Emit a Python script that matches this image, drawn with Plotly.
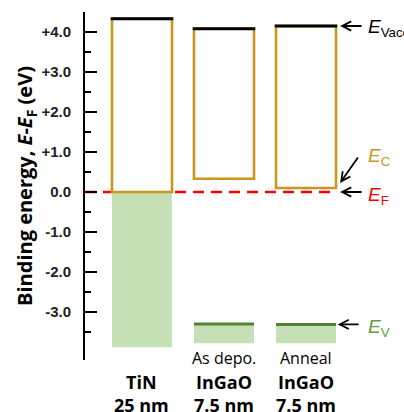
import plotly.graph_objects as go

# ---- data ----
materials = ["TiN", "InGaO", "InGaO"]
thickness = ["25 nm", "7.5 nm", "7.5 nm"]
conditions = ["", "As depo.", "Anneal"]
E_vac = [4.33, 4.08, 4.15]          # vacuum level (eV)
E_c = [0.00, 0.33, 0.10]            # conduction band minimum / TiN Fermi edge
occ_top = [0.00, -3.30, -3.31]      # top of filled states (E_V for InGaO)
occ_bottom = [-3.88, -3.78, -3.78]  # bottom of shaded region
E_F = 0.0
y_ticks = [-3, -2, -1, 0, 1, 2, 3, 4]
y_tick_text = ["-3.0", "-2.0", "-1.0", "0.0", "+1.0", "+2.0", "+3.0", "+4.0"]

GOLD = "#C8971B"
FILL = "#C5E0B4"
DGREEN = "#548235"
TGREEN = "#5E9C3E"

idx = list(range(len(materials)))
BW = 0.732
XR = [-0.695, 3.195]
YR = [-4.2, 4.5]

fig = go.Figure()

# filled (occupied) region
fig.add_trace(go.Bar(x=idx, base=occ_bottom,
                     y=[t - b for t, b in zip(occ_top, occ_bottom)],
                     width=BW, marker=dict(color=FILL, line=dict(width=0)),
                     hoverinfo="skip"))
# gap boxes (Ec -> Evac)
fig.add_trace(go.Bar(x=idx, base=E_c, y=[v - c for v, c in zip(E_vac, E_c)],
                     width=BW, marker=dict(color="white", line=dict(color=GOLD, width=2.6)),
                     hoverinfo="skip"))
# vacuum level lines
th = 0.075
fig.add_trace(go.Bar(x=idx, base=[v - th / 2 for v in E_vac], y=[th] * 3,
                     width=BW + 0.03, marker=dict(color="black", line=dict(width=0)),
                     hoverinfo="skip"))
# valence band lines (InGaO only)
fig.add_trace(go.Bar(x=idx[1:], base=[v - th / 2 for v in occ_top[1:]], y=[th] * 2,
                     width=BW, marker=dict(color=DGREEN, line=dict(width=0)),
                     hoverinfo="skip"))

# Fermi level dashed line
fig.add_shape(type="line", xref="x", yref="y", layer="below",
              x0=XR[0], x1=idx[-1] + BW / 2, y0=E_F, y1=E_F,
              line=dict(color="#FF0000", width=2.5, dash="11px,7px"))

ann = []
# category labels
for i in idx:
    ann.append(dict(x=i, y=0, xref="x", yref="paper", yanchor="top", yshift=-8,
                    text="<b>%s<br>%s</b>" % (materials[i], thickness[i]), showarrow=False,
                    font=dict(family="Open Sans", size=18, color="black")))
    if conditions[i]:
        ann.append(dict(x=i, y=occ_bottom[i], xref="x", yref="y", yanchor="top", yshift=-2,
                        text=conditions[i], showarrow=False,
                        font=dict(family="Open Sans", size=16, color="black")))

# level labels and arrows
xr_head = idx[-1] + BW / 2 + 0.05
xr_tail = idx[-1] + 0.695
xt = idx[-1] + 0.73
lab = [
    ("<i>E</i><sub>Vacc</sub>", "black", E_vac[2], E_vac[2], E_vac[2] - 0.05, xr_tail, xr_head),
    ("<i>E</i><sub>C</sub>", GOLD, 0.225, 0.9, 0.87, idx[-1] + 0.646, xr_head),
    ("<i>E</i><sub>F</sub>", "#FF0000", E_F, E_F, E_F - 0.1, xr_tail, xr_head),
    ("<i>E</i><sub>V</sub>", TGREEN, occ_top[2], occ_top[2], occ_top[2] - 0.08,
     idx[-1] + 0.66, idx[-1] + BW / 2 + 0.02),
]
for txt, col, yh, yt, ytxt, xtl, xh in lab:
    ann.append(dict(x=xh, y=yh, xref="x", yref="y", ax=xtl, ay=yt, axref="x", ayref="y",
                    text="", showarrow=True, arrowhead=5, arrowsize=1, arrowwidth=1.8,
                    arrowcolor="black"))
    ann.append(dict(x=xt, y=ytxt, xref="x", yref="y", xanchor="left", yanchor="middle",
                    text=txt, showarrow=False,
                    font=dict(family="Liberation Sans", size=19, color=col)))

# arrowhead at bottom of y axis
ann.append(dict(x=0, y=YR[0] - 0.08, xref="paper", yref="y", ax=0, ay=-12,
                text="", showarrow=True, arrowhead=2, arrowsize=1.1, arrowwidth=2,
                arrowcolor="black"))

fig.update_layout(
    width=404, height=412,
    margin=dict(l=85, r=0, t=12, b=52),
    paper_bgcolor="white", plot_bgcolor="white",
    barmode="overlay", showlegend=False, hovermode=False,
    annotations=ann,
    xaxis=dict(range=XR, visible=False, fixedrange=True),
    yaxis=dict(range=YR, tickmode="array", tickvals=y_ticks, ticktext=y_tick_text,
               fixedrange=True,
               showgrid=False, zeroline=False, showline=True, linecolor="black", linewidth=2,
               ticks="inside", ticklen=12, tickwidth=2, tickcolor="black",
               ticklabelstandoff=9,
               minor=dict(tickmode="linear", tick0=0.5, dtick=1, ticks="inside",
                          ticklen=6, tickwidth=2, tickcolor="black"),
               tickfont=dict(family="Liberation Sans", size=15, color="#222222", weight="bold"),
               title=dict(text="<b>Binding energy, <i>E</i>-<i>E</i><sub>F</sub> (eV)</b>",
                          font=dict(family="Open Sans", size=20, color="black"),
                          standoff=3)),
)

fig.write_html("out.html", config={"displayModeBar": False},
               post_script="document.body.style.margin='0px';document.body.style.padding='0px';")
